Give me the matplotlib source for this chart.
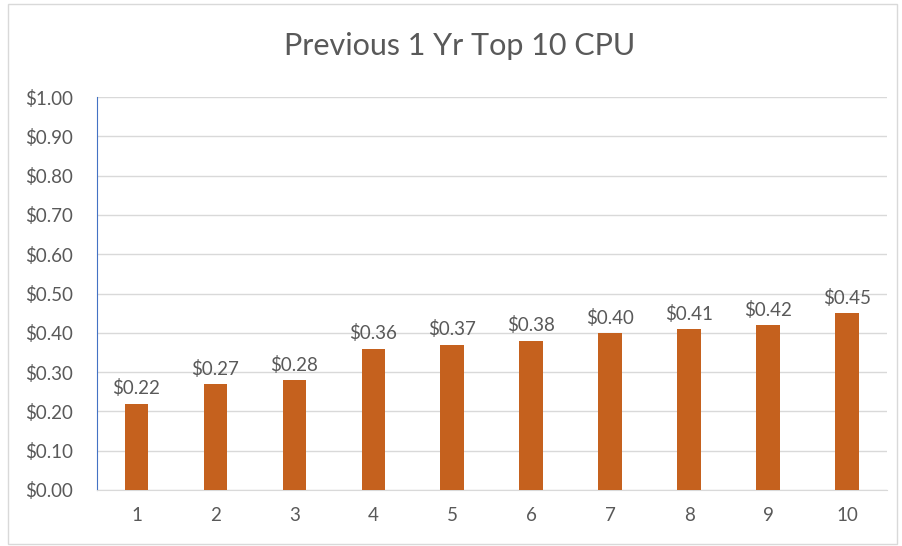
import matplotlib
matplotlib.use("Agg")
import matplotlib.pyplot as plt
from matplotlib.patches import Rectangle

# data
ranks = ["1", "2", "3", "4", "5", "6", "7", "8", "9", "10"]
cpu_cost = [0.22, 0.27, 0.28, 0.36, 0.37, 0.38, 0.40, 0.41, 0.42, 0.45]
y_ticks = [0.0, 0.1, 0.2, 0.3, 0.4, 0.5, 0.6, 0.7, 0.8, 0.9, 1.0]

plt.rcParams["font.family"] = ["Lato", "DejaVu Sans"]
text_color = "#595959"
bar_color = "#C5611E"

fig = plt.figure(figsize=(9.02, 5.46), dpi=100)
fig.patches.append(Rectangle((0.009, 0.004), 0.985, 0.988, transform=fig.transFigure,
                             fill=False, edgecolor="#d9d9d9", linewidth=1))
ax = fig.add_axes([0.1075, 0.1026, 0.8755, 0.7197])

x = range(len(ranks))
bars = ax.bar(x, cpu_cost, width=0.30, color=bar_color, zorder=3)
for b, v in zip(bars, cpu_cost):
    ax.text(b.get_x() + b.get_width() / 2, v + 0.016, f"${v:.2f}",
            ha="center", va="bottom", fontsize=13.5, color=text_color)

ax.set_xlim(-0.5, len(ranks) - 0.5)
ax.set_ylim(0, 1.0)
ax.set_xticks(list(x))
ax.set_xticklabels(ranks)
ax.set_yticks(y_ticks)
ax.set_yticklabels([f"${t:.2f}" for t in y_ticks])
ax.tick_params(length=0, labelsize=13.5, colors=text_color)
ax.tick_params(axis="x", pad=12)
ax.tick_params(axis="y", pad=17)
ax.grid(axis="y", color="#d9d9d9", linewidth=1, zorder=0)
for side in ["top", "right"]:
    ax.spines[side].set_visible(False)
ax.spines["left"].set_color("#4472C4")
ax.spines["bottom"].set_color("#d9d9d9")

fig.text(0.51, 0.915, "Previous 1 Yr Top 10 CPU", ha="center", va="center",
         fontsize=22, color=text_color)

fig.savefig("out.png", dpi=100)
